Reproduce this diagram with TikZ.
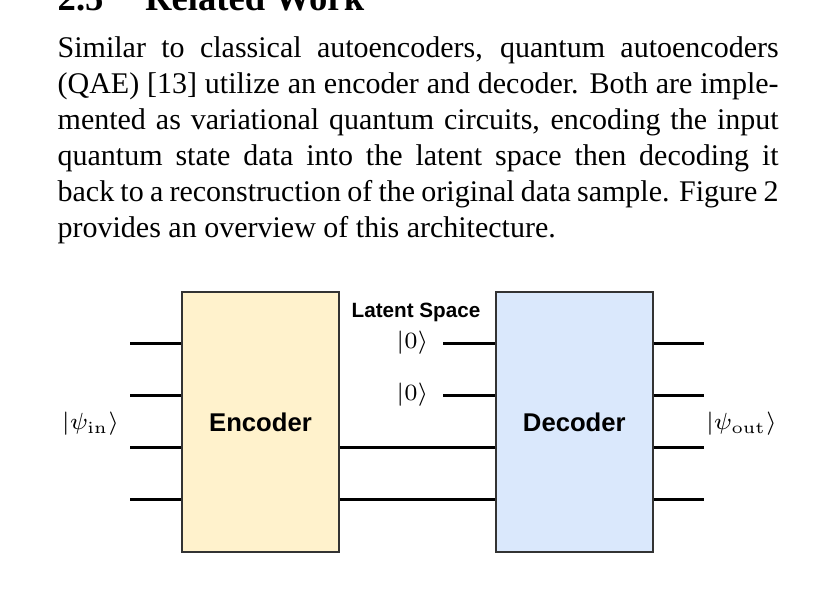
\documentclass[tikz,border=0pt]{standalone}
\usepackage[no-math]{fontspec}
\setmainfont{Liberation Serif}
\newfontfamily\labelfont{Liberation Sans}
\usepackage{xcolor}
\usetikzlibrary{positioning}
\definecolor{encfill}{HTML}{FFF2CC}
\definecolor{decfill}{HTML}{DAE8FC}
\tikzset{
  wire/.style={line width=0.9pt},
  block/.style={draw=black!80, line width=0.45pt, minimum width=47.1pt, minimum height=78pt,
    inner sep=0pt, font=\labelfont\bfseries\fontsize{7.7}{9}\selectfont},
  ket/.style={inner sep=0pt, font=\fontsize{7.5}{9}\selectfont},
}
\begin{document}
\begin{tikzpicture}[x=0.3pt, y=-0.3pt]
    \useasboundingbox (0,0) rectangle (834,591);
    % section heading and text
    \node[anchor=base west, inner sep=0, font=\bfseries\fontsize{11}{13}\selectfont] (sec) at (57,10) {2.5\hspace{12.5pt}Related Work};
    \node[anchor=north west, inner sep=0, text width=216.3pt, align=justify,
      font=\fontsize{9}{10.8}\selectfont] (para) at (57,36)
      {Similar to classical autoencoders, quantum autoencoders\linebreak
       (QAE) [13] utilize an encoder and decoder. Both are imple-\linebreak
       mented as variational quantum circuits, encoding the input\linebreak
       quantum state data into the latent space then decoding it\linebreak
       back to a reconstruction of the original data sample. Figure 2\linebreak
       provides an overview of this architecture.};

    % encoder and decoder
    \node[block, fill=encfill] (enc) at (260.5,422) {\raisebox{-0.6pt}{Encoder}};
    \node[block, fill=decfill, right=46.6pt of enc] (dec) {\raisebox{-0.6pt}{Decoder}};
    \node[font=\labelfont\bfseries\fontsize{6.2}{7.4}\selectfont, inner sep=0] (latent) at (416,312) {Latent Space};

    % qubit wires
    \foreach \y [count=\i] in {343,395,447,499} {
        \coordinate (in\i) at (130,\y);
        \coordinate (out\i) at (704,\y);
        \draw[wire] (in\i) -- (in\i -| enc.west);
        \draw[wire] (dec.east |- out\i) -- (out\i);
    }
    \draw[wire] (enc.east |- in3) -- (dec.west |- in3);
    \draw[wire] (enc.east |- in4) -- (dec.west |- in4);

    % latent ancillas
    \node[ket, anchor=east, inner xsep=4.2pt] (zero1) at (443,343) {$|0\rangle$};
    \node[ket, anchor=east, inner xsep=4.2pt] (zero2) at (443,395) {$|0\rangle$};
    \draw[wire] (zero1.east) -- (zero1.east -| dec.west);
    \draw[wire] (zero2.east) -- (zero2.east -| dec.west);

    % states
    \node[ket] (psiin) at (90.5,424) {$|\psi_{\mathrm{in}}\rangle$};
    \node[ket] (psiout) at (741.5,424) {$|\psi_{\mathrm{out}}\rangle$};
\end{tikzpicture}
\end{document}
